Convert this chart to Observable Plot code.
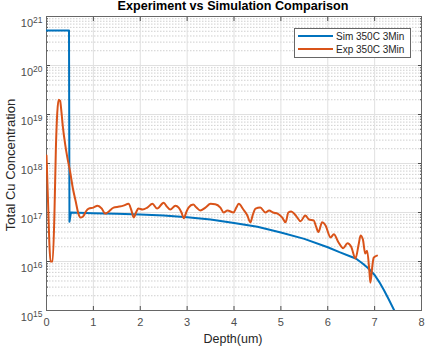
<!DOCTYPE html>
<html><head><meta charset="utf-8">
<script src="https://cdn.jsdelivr.net/npm/d3@7"></script>
<script src="https://cdn.jsdelivr.net/npm/@observablehq/plot@0.6"></script>
<style>body{margin:0;background:#fff} svg{display:block}</style>
</head><body><div id="chart"></div>
<script>
const title = "Experiment vs Simulation Comparison";
const xLabel = "Depth(um)";
const yLabel = "Total Cu Concentration";
const seriesNames = ["Sim 350C 3Min", "Exp 350C 3Min"];
const seriesColors = ["#0072BD", "#D95319"];
const xTicks = [0, 1, 2, 3, 4, 5, 6, 7, 8];
const yTicks = [1e15, 1e16, 1e17, 1e18, 1e19, 1e20, 1e21];

const simDepth = [0, 0.48, 0.49, 0.52, 1, 1.5, 2, 2.5, 3, 3.5, 4, 4.5, 5, 5.5, 6, 6.25, 6.5, 6.6, 6.75, 6.87, 7, 7.1, 7.2, 7.3, 7.42];
const simConc  = [5.2e20, 5.2e20, 6.5e16, 1.0e17, 9.7e16, 9.4e16, 9.1e16, 8.7e16, 8.0e16, 7.2e16, 6.1e16, 5.1e16, 3.9e16, 2.9e16, 1.95e16, 1.55e16, 1.25e16, 1.15e16, 9.0e15, 7.2e15, 5.3e15, 3.8e15, 2.6e15, 1.7e15, 1.0e15];

const expDepth = [0, 0.03, 0.06, 0.085, 0.13, 0.17, 0.2, 0.23, 0.26, 0.29, 0.32, 0.35, 0.40, 0.44, 0.51, 0.56, 0.62, 0.68, 0.72, 0.78, 0.84, 0.9, 1.0, 1.09, 1.18, 1.25, 1.3, 1.43, 1.55, 1.64, 1.75, 1.81, 1.86, 1.92, 1.96, 2.05, 2.15, 2.26, 2.36, 2.5, 2.57, 2.64, 2.75, 2.82, 2.88, 2.93, 2.98, 3.03, 3.13, 3.2, 3.28, 3.39, 3.5, 3.6, 3.71, 3.78, 3.86, 3.99, 4.05, 4.1, 4.2, 4.28, 4.35, 4.4, 4.46, 4.56, 4.67, 4.75, 4.83, 4.93, 5.03, 5.1, 5.16, 5.22, 5.3, 5.35, 5.42, 5.52, 5.6, 5.7, 5.75, 5.8, 5.88, 5.95, 6.06, 6.13, 6.23, 6.33, 6.42, 6.5, 6.59, 6.66, 6.7, 6.75, 6.8, 6.84, 6.89, 6.91, 6.95, 6.98, 7.05];
const expConc  = [1.45e18, 2.0e17, 2.5e16, 1.0e16, 1.0e16, 1.0e17, 2.0e18, 1.1e19, 2.0e19, 1.9e19, 1.1e19, 5.5e18, 2.4e18, 1.4e18, 6.3e17, 3.2e17, 1.74e17, 9.5e16, 7.9e16, 8.3e16, 1.05e17, 1.2e17, 1.26e17, 1.38e17, 1.2e17, 9.5e16, 1.0e17, 1.26e17, 1.32e17, 1.38e17, 1.5e17, 1.12e17, 7.9e16, 1.05e17, 1.2e17, 1.15e17, 1.26e17, 1.5e17, 1.2e17, 1.58e17, 1.32e17, 1.15e17, 1.38e17, 1.26e17, 1.0e17, 7.6e16, 1.0e17, 1.26e17, 1.45e17, 1.26e17, 1.1e17, 1.26e17, 1.5e17, 1.48e17, 1.26e17, 1.0e17, 1.1e17, 1.0e17, 1.26e17, 1.5e17, 1.15e17, 8.9e16, 6.3e16, 8.9e16, 1.2e17, 1.26e17, 1.0e17, 1.1e17, 1.0e17, 9.5e16, 7.9e16, 6.3e16, 1.0e17, 1.05e17, 9.1e16, 7.9e16, 6.6e16, 8.7e16, 7.2e16, 6.9e16, 5.2e16, 4.0e16, 6.3e16, 5.5e16, 3.1e16, 3.6e16, 2.45e16, 1.86e16, 2.35e16, 2.0e16, 1.15e16, 2.24e16, 3.4e16, 2.8e16, 1.45e16, 1.66e16, 6.0e15, 3.7e15, 7.9e15, 1.2e16, 1.32e16];

const sim = simDepth.map((d, i) => ({depth: d, conc: simConc[i]}));
const exp = expDepth.map((d, i) => ({depth: d, conc: expConc[i]}));

const yMinor = [];
for (let k = 15; k < 21; k++) for (let m = 2; m <= 9; m++) yMinor.push(m * Math.pow(10, k));

const font = "'Liberation Sans', Arial, sans-serif";
const axisColor = "#4d4d4d";
const blank = () => "";

const chart = Plot.plot({
  width: 440, height: 352,
  marginLeft: 46, marginRight: 19, marginTop: 16, marginBottom: 42,
  style: {fontFamily: font, fontSize: "11px", color: axisColor, background: "#fff"},
  x: {domain: [0, 8]},
  y: {type: "log", domain: [1e15, 1e21]},
  marks: [
    Plot.ruleY(yMinor, {stroke: "#cfcfcf", strokeDasharray: "1.5,1.5", strokeWidth: 1}),
    Plot.ruleY(yTicks, {stroke: "#e0e0e0", strokeWidth: 1}),
    Plot.ruleX(xTicks, {stroke: "#e0e0e0", strokeWidth: 1}),
    Plot.axisX({ticks: xTicks, tickSize: -4, tickPadding: 12, tickFormat: d => String(d), label: null}),
    Plot.axisX({ticks: xTicks, anchor: "top", tickSize: -4, tickFormat: blank, label: null}),
    Plot.axisY({ticks: yTicks, tickSize: -4, tickPadding: 8, tickFormat: d => String(Math.round(Math.log10(d))), label: null}),
    Plot.axisY({ticks: yMinor, tickSize: -2, tickFormat: blank, label: null}),
    Plot.axisY({ticks: yTicks, anchor: "right", tickSize: -4, tickFormat: blank, label: null}),
    Plot.axisY({ticks: yMinor, anchor: "right", tickSize: -2, tickFormat: blank, label: null}),
    Plot.frame({stroke: "#666", strokeWidth: 1}),
    Plot.line(sim, {x: "depth", y: "conc", stroke: seriesColors[0], strokeWidth: 2, clip: true}),
    Plot.line(exp, {x: "depth", y: "conc", stroke: seriesColors[1], strokeWidth: 2, curve: "monotone-x", clip: true})
  ]
});
document.getElementById("chart").appendChild(chart);

const svg = d3.select(chart);
// drop empty tick labels
svg.selectAll("text").filter(function () { return this.textContent === ""; }).remove();
// superscript exponents on y tick labels
svg.selectAll('g[aria-label="y-axis tick label"] text').each(function () {
  const t = d3.select(this);
  const e = t.text();
  t.text(null);
  t.append("tspan").text("10");
  t.append("tspan").attr("dy", "-0.45em").attr("font-size", "8.5px").text(e);
}).attr("dy", "0.6em");

// title
svg.append("text").attr("x", 233).attr("y", 10).attr("text-anchor", "middle")
  .attr("font-family", font).attr("font-weight", "bold").attr("font-size", "12.6px").attr("fill", "#000")
  .text(title);
// axis labels
svg.append("text").attr("x", 233).attr("y", 343).attr("text-anchor", "middle")
  .attr("font-family", font).attr("font-size", "12.5px").attr("fill", "#262626").text(xLabel);
svg.append("text").attr("transform", "translate(15,165) rotate(-90)").attr("text-anchor", "middle")
  .attr("font-family", font).attr("font-size", "13px").attr("fill", "#262626").text(yLabel);

// legend
const lg = svg.append("g");
lg.append("rect").attr("x", 294.5).attr("y", 28.5).attr("width", 116).attr("height", 29)
  .attr("fill", "#fff").attr("stroke", "#666").attr("stroke-width", 1);
seriesNames.forEach((name, i) => {
  const yy = 36 + i * 13;
  lg.append("line").attr("x1", 298).attr("x2", 333).attr("y1", yy).attr("y2", yy)
    .attr("stroke", seriesColors[i]).attr("stroke-width", 2);
  lg.append("text").attr("x", 336).attr("y", yy).attr("dy", "0.35em").attr("text-anchor", "start")
    .attr("font-family", font).attr("font-size", "10px").attr("fill", "#262626").text(name);
});
</script>
</body></html>
